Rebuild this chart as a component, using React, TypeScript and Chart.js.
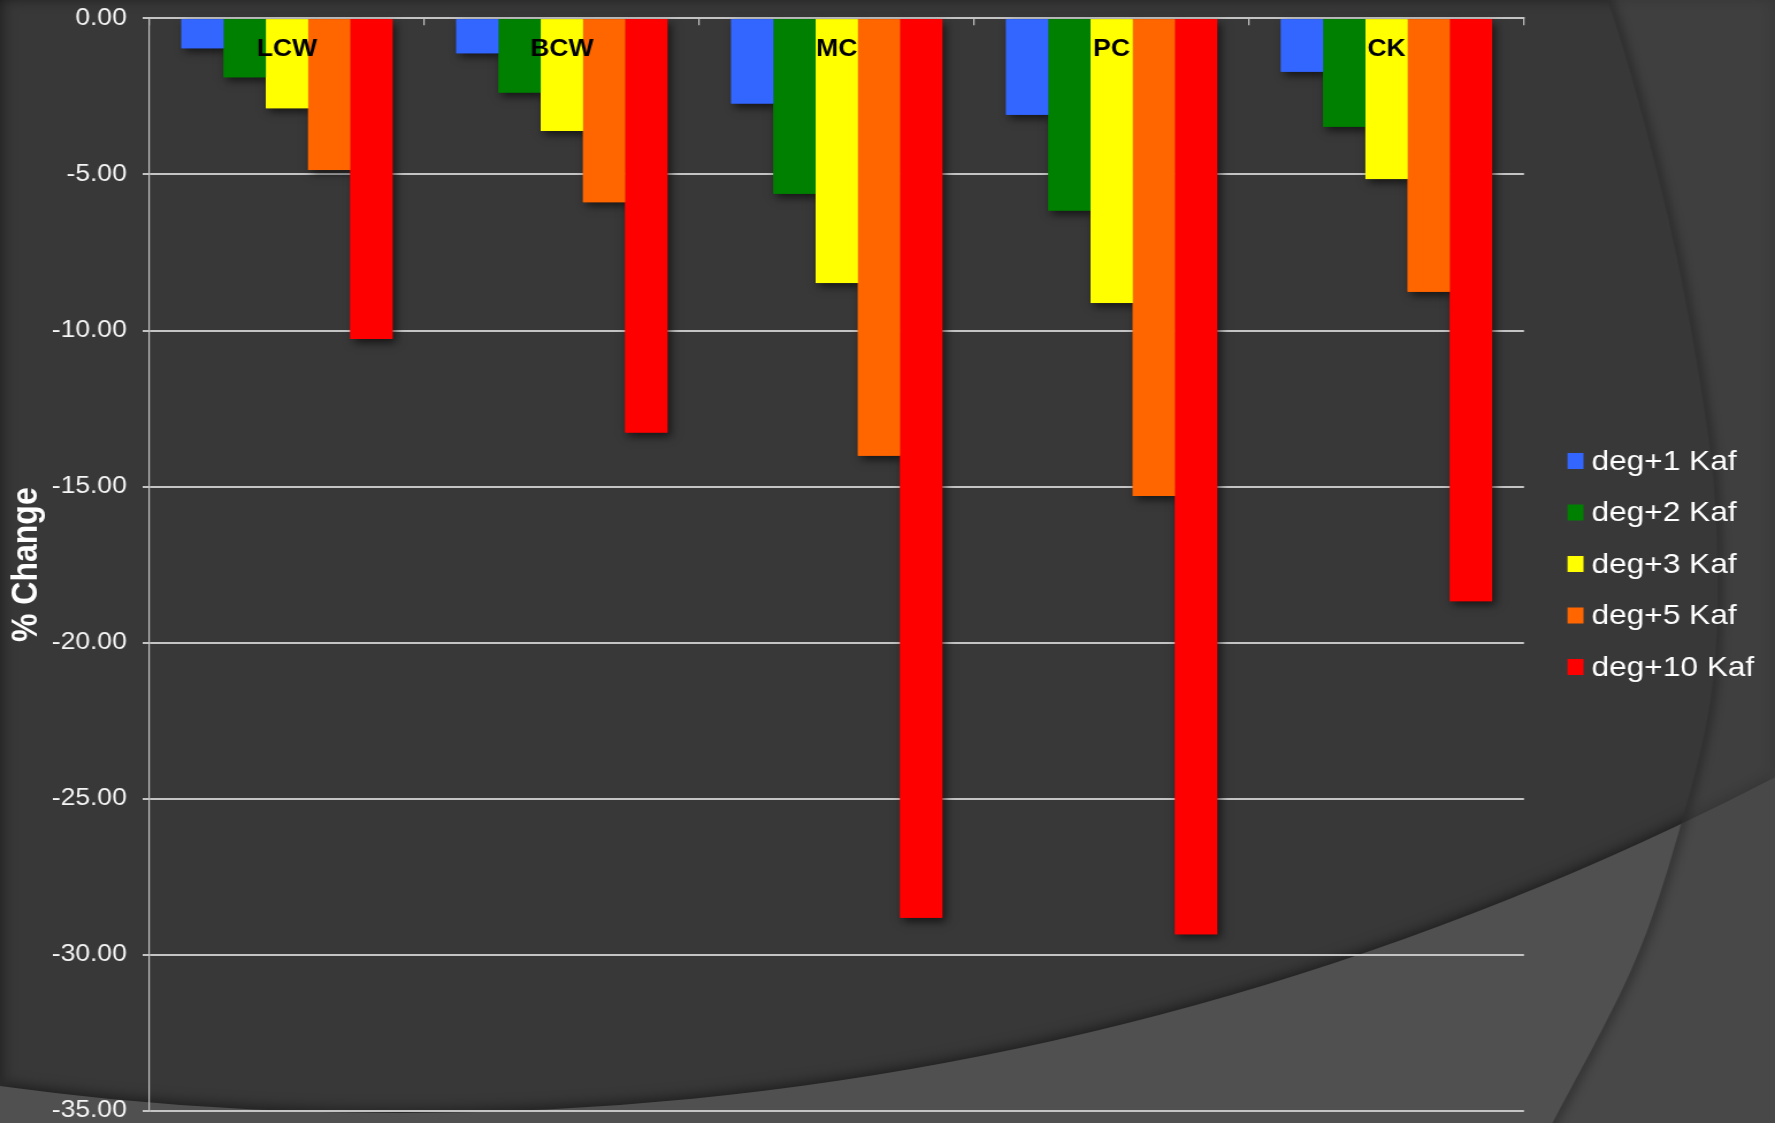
import React, { useEffect, useRef } from 'react';
import { Chart, registerables } from 'chart.js';

Chart.register(...registerables);

// ---- data ----
const categories = ['LCW', 'BCW', 'MC', 'PC', 'CK'];
const seriesNames = ['deg+1 Kaf', 'deg+2 Kaf', 'deg+3 Kaf', 'deg+5 Kaf', 'deg+10 Kaf'];
const seriesColors = ['#3366ff', '#008000', '#ffff00', '#ff6600', '#ff0000'];

const deg1 = [-0.96, -1.12, -2.73, -3.09, -1.71];
const deg2 = [-1.89, -2.38, -5.62, -6.16, -3.47];
const deg3 = [-2.88, -3.61, -8.48, -9.12, -5.15];
const deg5 = [-4.86, -5.89, -14.01, -15.3, -8.76];
const deg10 = [-10.27, -13.27, -28.81, -29.34, -18.67];

const yMin = -35;
const yMax = 0;
const yStep = 5;
const yTitle = '% Change';

// ---- page / canvas geometry ----
const PAGE_W = 1775;
const PAGE_H = 1123;
// the slide is rendered narrower and stretched to the page width
const STRETCH = 1.15;
const CANVAS_W = Math.round(PAGE_W / STRETCH);
const sx = (x: number) => x / STRETCH;

const FONT = "'Liberation Sans', Arial, Helvetica, sans-serif";
const GRID = '#c4c4c4';

// outline of the right-hand sweep (page coordinates)
const sweepEdge: [number, number][] = [
  [1560, -80], [1607, 0], [1667, 215], [1707, 430], [1717, 573],
  [1710, 700], [1678, 833], [1632, 967], [1552, 1123], [1515, 1190],
];

function traceSmooth(ctx: CanvasRenderingContext2D, pts: [number, number][], move: boolean) {
  if (move) ctx.moveTo(pts[0][0], pts[0][1]);
  else ctx.lineTo(pts[0][0], pts[0][1]);
  for (let i = 0; i < pts.length - 1; i++) {
    const p0 = pts[i - 1] || pts[i];
    const p1 = pts[i];
    const p2 = pts[i + 1];
    const p3 = pts[i + 2] || p2;
    ctx.bezierCurveTo(
      p1[0] + (p2[0] - p0[0]) / 6, p1[1] + (p2[1] - p0[1]) / 6,
      p2[0] - (p3[0] - p1[0]) / 6, p2[1] - (p3[1] - p1[1]) / 6,
      p2[0], p2[1],
    );
  }
}

// dark slide background with two soft sweeping arcs
const backdrop = {
  id: 'backdrop',
  beforeDraw(chart: any) {
    const ctx = chart.ctx as CanvasRenderingContext2D;
    ctx.save();
    ctx.scale(1 / STRETCH, 1);
    ctx.fillStyle = '#383838';
    ctx.fillRect(0, 0, PAGE_W, PAGE_H);

    // lower light sweep
    const lc = { x: 400, y: -1868, r: 2981 };
    ctx.save();
    ctx.beginPath();
    ctx.rect(0, 0, PAGE_W, PAGE_H);
    ctx.moveTo(lc.x + lc.r, lc.y);
    ctx.arc(lc.x, lc.y, lc.r, 0, Math.PI * 2, true);
    ctx.shadowColor = 'rgba(0,0,0,0.55)';
    ctx.shadowBlur = 14;
    ctx.shadowOffsetY = -2;
    ctx.fillStyle = '#505050';
    ctx.fill('evenodd');
    ctx.restore();

    // right-hand band
    ctx.save();
    ctx.beginPath();
    ctx.moveTo(PAGE_W + 60, -100);
    traceSmooth(ctx, sweepEdge, false);
    ctx.lineTo(PAGE_W + 60, PAGE_H + 100);
    ctx.closePath();
    ctx.fillStyle = 'rgba(67,67,67,0.62)';
    ctx.fill();
    ctx.clip();
    ctx.beginPath();
    traceSmooth(ctx, sweepEdge, true);
    ctx.strokeStyle = 'rgba(0,0,0,0.35)';
    ctx.lineWidth = 8;
    ctx.filter = 'blur(4px)';
    ctx.stroke();
    ctx.restore();

    ctx.restore();
  },
};

// soft drop shadows under the bars, painted before the bars themselves
const barShadows = {
  id: 'barShadows',
  beforeDatasetsDraw(chart: any) {
    const ctx = chart.ctx as CanvasRenderingContext2D;
    ctx.save();
    ctx.shadowColor = 'rgba(0,0,0,0.6)';
    ctx.shadowBlur = 8;
    ctx.shadowOffsetX = 3;
    ctx.shadowOffsetY = 4;
    chart.data.datasets.forEach((ds: any, i: number) => {
      const meta = chart.getDatasetMeta(i);
      ctx.fillStyle = ds.backgroundColor;
      meta.data.forEach((bar: any) => {
        const { x, y, base, width } = bar.getProps(['x', 'y', 'base', 'width'], true);
        ctx.fillRect(x - width / 2, Math.min(y, base), width, Math.abs(base - y));
      });
    });
    ctx.restore();
  },
};

// category names just under the zero line, over the bars
const categoryLabels = {
  id: 'categoryLabels',
  afterDatasetsDraw(chart: any) {
    const ctx = chart.ctx as CanvasRenderingContext2D;
    const xs = chart.scales.x;
    ctx.save();
    ctx.font = `bold 23px ${FONT}`;
    ctx.fillStyle = '#000000';
    ctx.textAlign = 'center';
    ctx.textBaseline = 'middle';
    (chart.data.labels as string[]).forEach((lab, i) => {
      ctx.fillText(lab, xs.getPixelForValue(i), chart.chartArea.top + 31);
    });
    ctx.restore();
  },
};

// series key at the right of the plot
const LEGEND_TOP = 461;
const LEGEND_STEP = 51.5;
const sideLegend = {
  id: 'sideLegend',
  afterDraw(chart: any) {
    const ctx = chart.ctx as CanvasRenderingContext2D;
    ctx.save();
    ctx.font = `27.5px ${FONT}`;
    ctx.textBaseline = 'middle';
    ctx.textAlign = 'left';
    chart.data.datasets.forEach((ds: any, i: number) => {
      const y = LEGEND_TOP + i * LEGEND_STEP;
      ctx.fillStyle = ds.backgroundColor;
      ctx.fillRect(sx(1567), y - 8, sx(16), 16);
      ctx.fillStyle = '#ffffff';
      ctx.fillText(ds.label, sx(1591), y + 1);
    });
    ctx.restore();
  },
};

export default function App() {
  const ref = useRef<HTMLCanvasElement | null>(null);

  useEffect(() => {
    const canvas = ref.current;
    if (!canvas) return;
    const values = [deg1, deg2, deg3, deg5, deg10];

    const chart = new Chart(canvas, {
      type: 'bar',
      data: {
        labels: categories,
        datasets: values.map((data, i) => ({
          label: seriesNames[i],
          data,
          backgroundColor: seriesColors[i],
          borderWidth: 0,
          categoryPercentage: 0.768,
          barPercentage: 1,
        })),
      },
      options: {
        responsive: false,
        maintainAspectRatio: false,
        animation: false,
        devicePixelRatio: 1,
        layout: {
          padding: { top: 0, left: 0, right: CANVAS_W - sx(1523.5), bottom: PAGE_H - 1111 },
        },
        plugins: {
          legend: { display: false },
          tooltip: { enabled: false },
        },
        scales: {
          x: {
            position: 'top',
            offset: true,
            grid: {
              display: true,
              drawOnChartArea: false,
              drawTicks: true,
              tickLength: -7,
              color: GRID,
              lineWidth: 1.2,
            },
            border: { display: true, color: GRID, width: 2 },
            ticks: { display: false },
            afterFit: (scale: any) => {
              scale.height = 18.3;
              scale.paddingLeft = 0;
              scale.paddingRight = 0;
            },
          },
          y: {
            min: yMin,
            max: yMax,
            ticks: {
              stepSize: yStep,
              color: '#f5f5f5',
              font: { family: FONT, size: 23 },
              padding: 13.8,
              callback: (v: any) => Number(v).toFixed(2),
            },
            grid: { color: GRID, lineWidth: 2, tickLength: 6 },
            border: { display: true, color: GRID, width: 1.2 },
            title: {
              display: true,
              text: yTitle,
              color: '#ffffff',
              font: { family: FONT, size: 32, weight: 'bold' },
              padding: { top: 4, bottom: 4 },
            },
            afterFit: (scale: any) => {
              scale.width = sx(149.5);
              scale.paddingTop = 0;
              scale.paddingBottom = 0;
            },
          },
        },
      },
      plugins: [backdrop, barShadows, categoryLabels, sideLegend],
    } as any);

    return () => chart.destroy();
  }, []);

  return (
    <div
      style={{
        position: 'fixed',
        left: 0,
        top: 0,
        width: PAGE_W,
        height: PAGE_H,
        overflow: 'hidden',
        background: '#383838',
      }}
    >
      <canvas
        ref={ref}
        width={CANVAS_W}
        height={PAGE_H}
        style={{ width: `${PAGE_W}px`, height: `${PAGE_H}px`, display: 'block' }}
      />
    </div>
  );
}
